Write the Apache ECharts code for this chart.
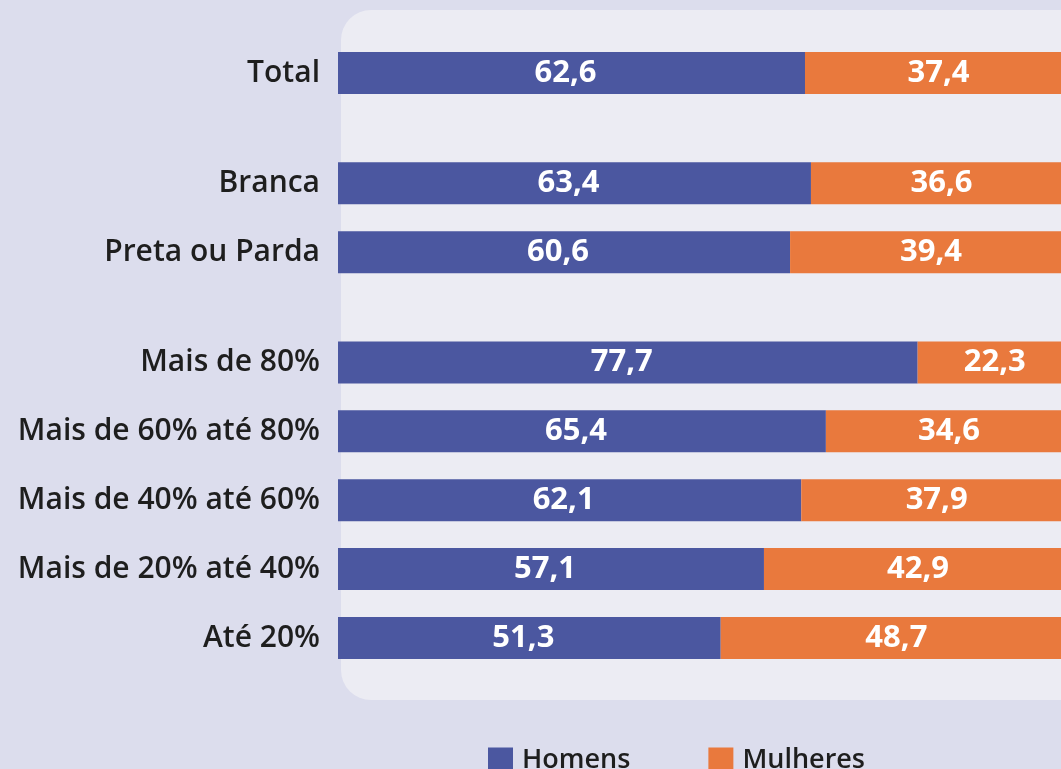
<!DOCTYPE html>
<html>
<head>
<meta charset="utf-8">
<script src="https://cdn.jsdelivr.net/npm/echarts@6/dist/echarts.min.js"></script>
<style>
	html,body{margin:0;padding:0;background:#dcdded;}
	#main{width:1061px;height:769px;}
</style>
</head>
<body>
<div id="main"></div>
<script>
	// dados
	var categories = ['Total', 'Branca', 'Preta ou Parda', 'Mais de 80%', 'Mais de 60% até 80%', 'Mais de 40% até 60%', 'Mais de 20% até 40%', 'Até 20%'];
	var homens = [62.6, 63.4, 60.6, 77.7, 65.4, 62.1, 57.1, 51.3];
	var mulheres = [37.4, 36.6, 39.4, 22.3, 34.6, 37.9, 42.9, 48.7];

	// layout: rows sit on a fine slot grid so the group gaps are ~1.6 rows
	var rowSlot = [0, 8, 13, 21, 26, 31, 36, 41];
	var slotCount = 42;
	var slotSize = 13.78;

	var slotLabels = [];
	var homensSlots = [];
	var mulheresSlots = [];
	for (var i = 0; i < slotCount; i++) {
		slotLabels.push('');
		homensSlots.push('-');
		mulheresSlots.push('-');
	}
	for (var j = 0; j < categories.length; j++) {
		slotLabels[rowSlot[j]] = categories[j];
		homensSlots[rowSlot[j]] = homens[j];
		mulheresSlots[rowSlot[j]] = mulheres[j];
	}

	var fmt = function (p) { return p.value.toFixed(1).replace('.', ','); };
	var font = '"Open Sans", sans-serif';

	var chart = echarts.init(document.getElementById('main'), null, {renderer: 'canvas'});
	var option = {
		backgroundColor: '#dcdded',
		animation: false,
		color: ['#4b57a0', '#e9793d'],
		graphic: [{
			type: 'rect',
			z: -10,
			silent: true,
			shape: {x: 341, y: 10, width: 780, height: 690, r: 30},
			style: {fill: '#ececf3'}
		}],
		legend: {
			left: 483,
			top: 742,
			icon: 'rect',
			itemWidth: 25,
			itemHeight: 26,
			itemGap: 78,
			data: ['Homens', 'Mulheres'],
			textStyle: {fontFamily: font, fontSize: 27, fontWeight: 600, color: '#1e1e1e', padding: [0, 0, 0, 4]}
		},
		grid: {
			left: 338,
			top: 73 - slotSize / 2,
			width: 746,
			height: slotCount * slotSize,
			outerBoundsMode: 'none'
		},
		xAxis: {type: 'value', min: 0, max: 100, show: false},
		yAxis: {
			type: 'category',
			inverse: true,
			data: slotLabels,
			axisLine: {show: false},
			axisTick: {show: false},
			splitLine: {show: false},
			axisLabel: {interval: 0, margin: 18, fontFamily: font, fontSize: 30, fontWeight: 600, color: '#1e1e1e'}
		},
		series: [
			{
				name: 'Homens',
				type: 'bar',
				stack: 'sexo',
				barWidth: 42,
				clip: false,
				data: homensSlots,
				label: {show: true, position: 'inside', offset: [-6, 0], formatter: fmt, color: '#fff', fontFamily: font, fontSize: 31, fontWeight: 'bold'}
			},
			{
				name: 'Mulheres',
				type: 'bar',
				stack: 'sexo',
				barWidth: 42,
				clip: false,
				data: mulheresSlots,
				label: {show: true, position: 'inside', offset: [-6, 0], formatter: fmt, color: '#fff', fontFamily: font, fontSize: 31, fontWeight: 'bold'}
			}
		]
	};
	chart.setOption(option);
</script>
</body>
</html>
